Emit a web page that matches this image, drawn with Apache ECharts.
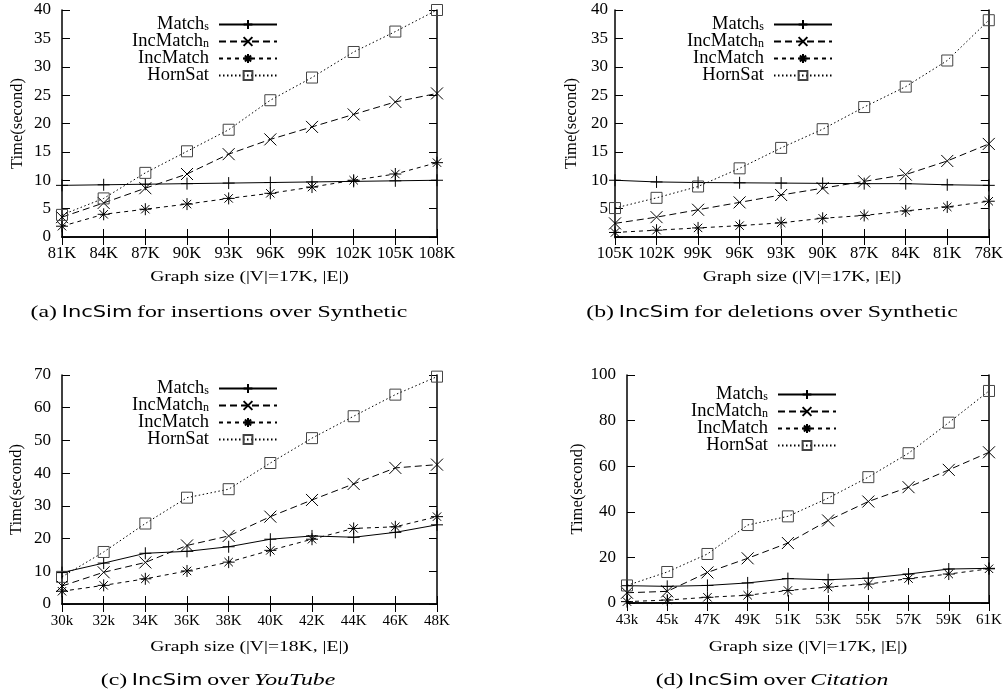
<!DOCTYPE html>
<html>
<head>
<meta charset="utf-8">
<script src="https://cdn.jsdelivr.net/npm/echarts@6/dist/echarts.min.js"></script>
<style>
  html, body { margin: 0; padding: 0; background: #fff; }
  #main { width: 1006px; height: 696px; }
</style>
</head>
<body>
<div id="main"></div>
<script>
// categories (x tick labels)
var catA = ['81K', '84K', '87K', '90K', '93K', '96K', '99K', '102K', '105K', '108K'];
var catB = ['105K', '102K', '99K', '96K', '93K', '90K', '87K', '84K', '81K', '78K'];
var catC = ['30k', '32k', '34K', '36K', '38K', '40K', '42K', '44K', '46K', '48K'];
var catD = ['43k', '45k', '47K', '49K', '51K', '53K', '55K', '57K', '59K', '61K'];

// (a) insertions over Synthetic
var aMatchS = [9.1, 9.2, 9.3, 9.4, 9.5, 9.6, 9.7, 9.8, 9.9, 10.0];
var aIncN = [3.5, 6.0, 8.6, 11.1, 14.6, 17.2, 19.4, 21.6, 23.8, 25.3];
var aInc = [1.9, 4.0, 4.9, 5.8, 6.8, 7.7, 8.8, 10.0, 11.1, 13.1];
var aHorn = [3.9, 6.8, 11.3, 15.1, 18.9, 24.1, 28.1, 32.6, 36.2, 40.0];

// (b) deletions over Synthetic
var bMatchS = [10.0, 9.7, 9.6, 9.55, 9.5, 9.45, 9.4, 9.4, 9.2, 9.1];
var bIncN = [2.4, 3.5, 4.8, 6.1, 7.4, 8.6, 9.8, 11.0, 13.4, 16.4];
var bInc = [0.8, 1.2, 1.6, 2.0, 2.5, 3.3, 3.8, 4.6, 5.3, 6.3];
var bHorn = [5.1, 6.9, 8.9, 12.1, 15.7, 19.0, 22.9, 26.5, 31.1, 38.2];

// (c) YouTube
var cMatchS = [9.6, 12.5, 15.5, 16.1, 17.5, 19.8, 20.8, 20.4, 21.9, 24.2];
var cIncN = [5.5, 9.7, 12.7, 17.9, 20.8, 26.7, 31.8, 36.7, 41.6, 42.6];
var cInc = [3.9, 5.7, 7.7, 10.1, 12.8, 16.4, 19.8, 23.1, 23.6, 26.7];
var cHorn = [8.3, 15.9, 24.6, 32.5, 35.1, 43.1, 50.7, 57.4, 64.0, 69.5];

// (d) Citation
var dMatchS = [7.6, 7.3, 7.7, 8.8, 10.7, 10.2, 10.9, 12.7, 14.9, 15.2];
var dIncN = [4.5, 5.1, 13.4, 19.6, 26.3, 36.2, 44.5, 50.8, 58.4, 66.1];
var dInc = [0.6, 1.3, 2.5, 3.4, 5.5, 7.0, 8.3, 10.7, 12.7, 15.0];
var dHorn = [7.7, 13.6, 21.5, 34.2, 38.0, 46.0, 55.2, 65.7, 79.1, 93.0];

var seriesNames = ['Match_s', 'IncMatch_n', 'IncMatch', 'HornSat'];

var serif = '"Liberation Serif", "DejaVu Serif", serif';
var sans = '"DejaVu Sans", "Liberation Sans", sans-serif';

var myChart = echarts.init(document.getElementById('main'));

var grids = [];
var xAxes = [];
var yAxes = [];
var series = [];
var legends = [];
var texts = [];

var styles = {
    'Match_s': { symbol: 'path://M0,6L12,6M6,0L6,12', size: 12, dash: 'solid' },
    'IncMatch_n': { symbol: 'path://M0,0L12,12M0,12L12,0', size: 12, dash: [7, 4] },
    'IncMatch': { symbol: 'path://M6,0L6,12M0,6L12,6M1.8,1.8L10.2,10.2M1.8,10.2L10.2,1.8', size: 12, dash: [4, 4] },
    'HornSat': { symbol: 'rect', size: 11, dash: [1.5, 2.5] }
};

// stretched serif text, like the original figure
function stretchedText(x, y, text, rich) {
    return { type: 'text', x: x, y: y, silent: true, scaleX: 1.4,
        style: { text: text, align: 'center', verticalAlign: 'middle', rich: rich } };
}

var axisRich = { t: { fontFamily: serif, fontSize: 14, color: '#000' } };

function addPanel(p) {
    var gi = grids.length;
    grids.push({ left: p.left, top: p.top, width: p.width, height: p.height });
    var xi = xAxes.length;
    var axisLine = { show: true, lineStyle: { color: '#000', width: 1.5 } };
    var tick = { show: true, inside: true, length: 8, interval: 0, lineStyle: { color: '#000' } };
    xAxes.push({
        type: 'category', gridIndex: gi, data: p.cats, boundaryGap: false,
        axisLine: axisLine, axisTick: tick,
        axisLabel: { interval: 0, margin: p.xLabelMargin, fontFamily: serif, fontSize: p.xLabelSize, color: '#000' },
        splitLine: { show: false }
    });
    xAxes.push({
        type: 'category', gridIndex: gi, data: p.cats, boundaryGap: false, position: 'top',
        axisLine: axisLine, axisTick: tick, axisLabel: { show: false }, splitLine: { show: false }
    });
    var yi = yAxes.length;
    yAxes.push({
        type: 'value', gridIndex: gi, min: 0, max: p.yMax, interval: p.yStep,
        name: 'Time(second)', nameLocation: 'middle', nameGap: p.yNameGap,
        nameTextStyle: { fontFamily: serif, fontSize: 16.5, color: '#000' },
        axisLine: axisLine, axisTick: tick,
        axisLabel: {
            margin: p.yLabelMargin, fontFamily: serif, fontSize: 17, color: '#000',
            formatter: function (v) { return (p.hideZero && v === 0) ? '' : v; }
        },
        splitLine: { show: false }
    });
    yAxes.push({
        type: 'value', gridIndex: gi, min: 0, max: p.yMax, interval: p.yStep, position: 'right',
        axisLine: axisLine, axisTick: tick, axisLabel: { show: false }, splitLine: { show: false }
    });
    p.data.forEach(function (d, k) {
        var name = seriesNames[k];
        var s = styles[name];
        series.push({
            name: name, type: 'line', xAxisIndex: xi, yAxisIndex: yi,
            data: d, symbol: s.symbol, symbolSize: s.size, showSymbol: true,
            z: 3 + k,
            lineStyle: { color: '#000', width: 1, type: s.dash },
            itemStyle: { color: 'none', borderColor: k === 3 ? '#444' : '#000', borderWidth: 1 },
            emphasis: { disabled: true },
            animation: false
        });
    });
    legends.push({
        orient: 'vertical', right: p.legendRight, top: p.legendTop, padding: 0,
        itemWidth: 58, itemHeight: 11, itemGap: -2, align: 'right',
        data: seriesNames, selectedMode: false,
        formatter: function (n) {
            if (n === 'Match_s') return '{m|Match}{s|s}';
            if (n === 'IncMatch_n') return '{m|IncMatch}{s|n}';
            return '{m|' + n + '}';
        },
        textStyle: {
            color: '#000',
            padding: [0, 5, 0, 0],
            rich: {
                m: { fontFamily: serif, fontSize: 18.5, lineHeight: 17, color: '#000' },
                s: { fontFamily: serif, fontSize: 12, lineHeight: 17, verticalAlign: 'bottom', color: '#000' }
            }
        }
    });
    // x axis title
    texts.push(stretchedText(p.left + p.width / 2, p.xNameY, '{t|' + p.xName + '}', axisRich));
}

addPanel({ left: 62, top: 10, width: 375, height: 227, cats: catA, yMax: 40, yStep: 5,
    data: [aMatchS, aIncN, aInc, aHorn], xName: 'Graph size (|V|=17K, |E|)', xNameY: 277,
    xLabelMargin: 8, xLabelSize: 16.5, yNameGap: 36, yLabelMargin: 11, legendRight: 728, legendTop: 15 });
addPanel({ left: 615, top: 10, width: 374, height: 227, cats: catB, yMax: 40, yStep: 5, hideZero: true,
    data: [bMatchS, bIncN, bInc, bHorn], xName: 'Graph size (|V|=17K, |E|)', xNameY: 277,
    xLabelMargin: 8, xLabelSize: 16.5, yNameGap: 35, yLabelMargin: 7, legendRight: 173, legendTop: 15 });
addPanel({ left: 62, top: 375, width: 375, height: 229, cats: catC, yMax: 70, yStep: 10,
    data: [cMatchS, cIncN, cInc, cHorn], xName: 'Graph size (|V|=18K, |E|)', xNameY: 647,
    xLabelMargin: 10, xLabelSize: 15, yNameGap: 37, yLabelMargin: 11, legendRight: 728, legendTop: 379 });
addPanel({ left: 627, top: 375, width: 362, height: 228, cats: catD, yMax: 100, yStep: 20,
    data: [dMatchS, dIncN, dInc, dHorn], xName: 'Graph size (|V|=17K, |E|)', xNameY: 647,
    xLabelMargin: 10, xLabelSize: 15, yNameGap: 37, yLabelMargin: 11, legendRight: 169, legendTop: 385 });

// sub-figure captions
var capRich = {
    p: { fontFamily: serif, fontSize: 17, color: '#000' },
    s: { fontFamily: sans, fontSize: 15, color: '#000' },
    i: { fontFamily: serif, fontSize: 17, fontStyle: 'italic', color: '#000' }
};
texts.push(stretchedText(219, 313, '{p|(a)} {s|IncSim} {p|for insertions over Synthetic}', capRich));
texts.push(stretchedText(772, 313, '{p|(b)} {s|IncSim} {p|for deletions over Synthetic}', capRich));
texts.push(stretchedText(218, 681, '{p|(c)} {s|IncSim} {p|over} {i|YouTube}', capRich));
texts.push(stretchedText(772, 681, '{p|(d)} {s|IncSim} {p|over} {i|Citation}', capRich));

option = {
    backgroundColor: '#fff',
    animation: false,
    grid: grids,
    xAxis: xAxes,
    yAxis: yAxes,
    legend: legends,
    series: series,
    graphic: texts
};
myChart.setOption(option);
</script>
</body>
</html>
